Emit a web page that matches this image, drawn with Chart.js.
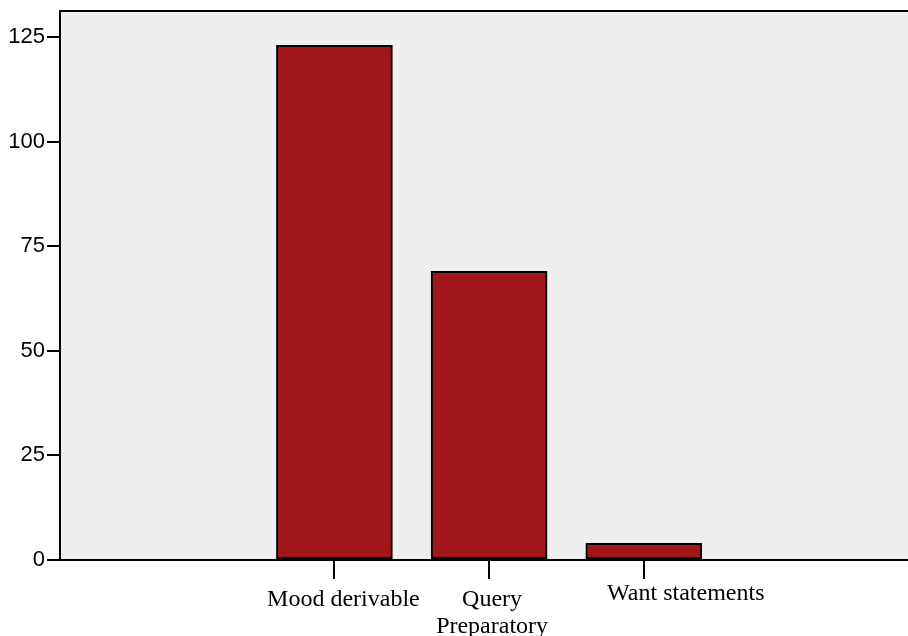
<!DOCTYPE html>
<html>
<head>
<meta charset="utf-8">
<script src="https://cdn.jsdelivr.net/npm/chart.js@4.4.1/dist/chart.umd.min.js"></script>
<style>
  html, body { margin: 0; padding: 0; background: #ffffff; overflow: hidden; }
  #wrap { width: 908px; height: 636px; }
</style>
</head>
<body>
<div id="wrap"><canvas id="chart" width="908" height="636"></canvas></div>
<script>
  // data
  const categories = ["Mood derivable", ["Query", "Preparatory"], "Want statements"];
  const counts = [123, 69, 4];
  const yTicks = [0, 25, 50, 75, 100, 125];

  // where each label sits relative to its tick (the original is not centred)
  const labelShiftX = [9, 3, 42];
  const labelShiftY = [0, 0, -6];

  const plotBg = "#efefef";
  const barColor = "#a1161a";

  const bgPlugin = {
    id: "plotFrame",
    beforeDraw(chart) {
      const { ctx, chartArea } = chart;
      ctx.save();
      ctx.fillStyle = plotBg;
      ctx.fillRect(chartArea.left, chartArea.top, chartArea.right - chartArea.left, chartArea.bottom - chartArea.top);
      ctx.restore();
    },
    afterDraw(chart) {
      const { ctx, chartArea } = chart;
      ctx.save();
      ctx.strokeStyle = "#000";
      ctx.lineWidth = 2;
      ctx.beginPath();
      ctx.moveTo(chartArea.left - 1, chartArea.top);
      ctx.lineTo(chartArea.right, chartArea.top);
      ctx.stroke();

      // category labels under the x ticks
      const xs = chart.scales.x;
      ctx.fillStyle = "#000";
      ctx.font = "24px 'Liberation Serif', 'Times New Roman', serif";
      ctx.textAlign = "center";
      ctx.textBaseline = "alphabetic";
      categories.forEach((lab, i) => {
        const lines = Array.isArray(lab) ? lab : [lab];
        const px = xs.getPixelForValue(i + 1) + labelShiftX[i];
        lines.forEach((line, j) => {
          ctx.fillText(line, px, chartArea.bottom + 46 + labelShiftY[i] + j * 27);
        });
      });
      ctx.restore();
    },
  };

  new Chart(document.getElementById("chart"), {
    type: "bar",
    data: {
      datasets: [
        {
          data: counts.map((v, i) => ({ x: i + 1, y: v })),
          backgroundColor: barColor,
          borderColor: "#000",
          borderWidth: 2,
          borderSkipped: false,
          barThickness: 116,
        },
      ],
    },
    options: {
      responsive: false,
      animation: false,
      layout: { padding: { top: 11, left: 0, right: 0, bottom: 0 } },
      plugins: {
        legend: { display: false },
        tooltip: { enabled: false },
      },
      scales: {
        x: {
          type: "linear",
          offset: false,
          min: -0.774,
          max: 4.708,
          afterBuildTicks(scale) {
            scale.ticks = categories.map((c, i) => ({ value: i + 1 }));
          },
          afterFit(scale) {
            scale.height = 76;
            scale.paddingLeft = 0;
            scale.paddingRight = 0;
          },
          ticks: { display: false },
          grid: {
            offset: false,
            drawOnChartArea: false,
            drawTicks: true,
            tickLength: 19,
            color: "#000",
            lineWidth: 2,
          },
          border: { display: true, color: "#000", width: 2 },
        },
        y: {
          min: 0,
          max: 131.2,
          afterBuildTicks(scale) {
            scale.ticks = yTicks.map((v) => ({ value: v }));
          },
          afterFit(scale) {
            scale.width = 60;
            scale.paddingTop = 0;
            scale.paddingBottom = 0;
          },
          ticks: {
            color: "#000",
            padding: 2,
            font: { family: "'Liberation Sans', Arial, sans-serif", size: 22 },
          },
          grid: {
            drawOnChartArea: false,
            drawTicks: true,
            tickLength: 13,
            color: "#000",
            lineWidth: 2,
          },
          border: { display: true, color: "#000", width: 2 },
        },
      },
    },
    plugins: [bgPlugin],
  });
</script>
</body>
</html>
